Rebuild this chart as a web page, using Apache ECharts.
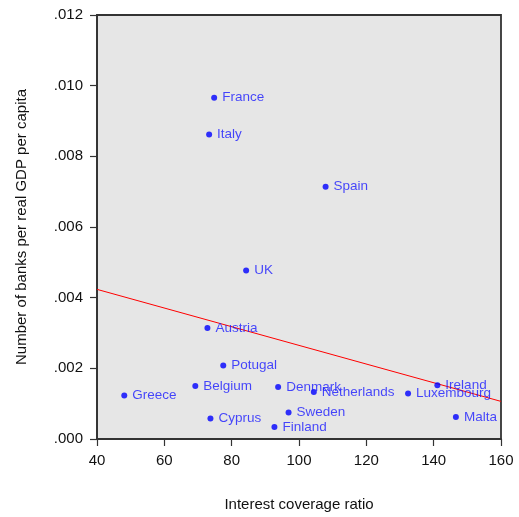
<!DOCTYPE html>
<html>
<head>
<meta charset="utf-8">
<script src="https://cdn.jsdelivr.net/npm/echarts@6/dist/echarts.min.js"></script>
<style>html,body{margin:0;padding:0;background:#fff;}#c{width:519px;height:517px;}</style>
</head>
<body>
<div id="c"></div>
<script>
var countries = ['France','Italy','Spain','UK','Austria','Potugal','Belgium','Greece','Cyprus','Denmark','Netherlands','Luxembourg','Ireland','Malta','Sweden','Finland'];
var coverage = [74.8, 73.3, 107.9, 84.3, 72.8, 77.5, 69.2, 48.1, 73.7, 93.8, 104.4, 132.4, 141.1, 146.6, 96.9, 92.7];
var banks = [0.00966, 0.00862, 0.00714, 0.00477, 0.00314, 0.00208, 0.00150, 0.00123, 0.00058, 0.00147, 0.00133, 0.00129, 0.00152, 0.00062, 0.00075, 0.00034];
var fitX = [40, 160];
var fitY = [0.004235, 0.001064];
var xTicks = [40, 60, 80, 100, 120, 140, 160];
var yTicks = ['.000', '.002', '.004', '.006', '.008', '.010', '.012'];

var pts = countries.map(function(n, i){ return {name: n, value: [coverage[i], banks[i]]}; });
var fit = fitX.map(function(x, i){ return [x, fitY[i]]; });
var font = '"Liberation Sans", Arial, sans-serif';
var chart = echarts.init(document.getElementById('c'), null, {renderer: 'canvas'});
chart.setOption({
  animation: false,
  backgroundColor: '#ffffff',
  grid: {left: 97, right: 18, top: 15, bottom: 77, show: true, backgroundColor: '#e6e6e6', borderColor: '#333333', borderWidth: 1.8},
  xAxis: {
    type: 'value', min: xTicks[0], max: xTicks[xTicks.length-1], interval: 20,
    name: 'Interest coverage ratio', nameLocation: 'middle', nameGap: 58,
    nameTextStyle: {fontFamily: font, fontSize: 15, color: '#111'},
    axisLine: {show: true, onZero: false, lineStyle: {color: '#333', width: 1.8}},
    axisTick: {show: true, inside: false, length: 7, lineStyle: {color: '#333', width: 1.2}},
    axisLabel: {margin: 14, fontFamily: font, fontSize: 15, color: '#111'},
    splitLine: {show: false}
  },
  yAxis: {
    type: 'value', min: 0, max: 0.012, interval: 0.002,
    name: 'Number of banks per real GDP per capita', nameLocation: 'middle', nameGap: 68, nameRotate: 90,
    nameTextStyle: {fontFamily: font, fontSize: 15, color: '#111'},
    axisLine: {show: true, onZero: false, lineStyle: {color: '#333', width: 1.8}},
    axisTick: {show: true, inside: false, length: 7, lineStyle: {color: '#333', width: 1.2}},
    axisLabel: {margin: 14, fontFamily: font, fontSize: 15, color: '#111',
      formatter: function(v){ return yTicks[Math.round(v / 0.002)]; }},
    splitLine: {show: false}
  },
  series: [
    {type: 'line', data: fit, symbol: 'none', silent: true, lineStyle: {color: '#ff0000', width: 1}, z: 3},
    {type: 'scatter', data: pts, symbol: 'circle', symbolSize: 6, itemStyle: {color: '#0000ff'}, z: 4,
     label: {show: true, position: 'right', distance: 5, formatter: '{b}', fontFamily: font, fontSize: 13.5, color: '#1a1aff'}}
  ]
});
</script>
</body>
</html>
